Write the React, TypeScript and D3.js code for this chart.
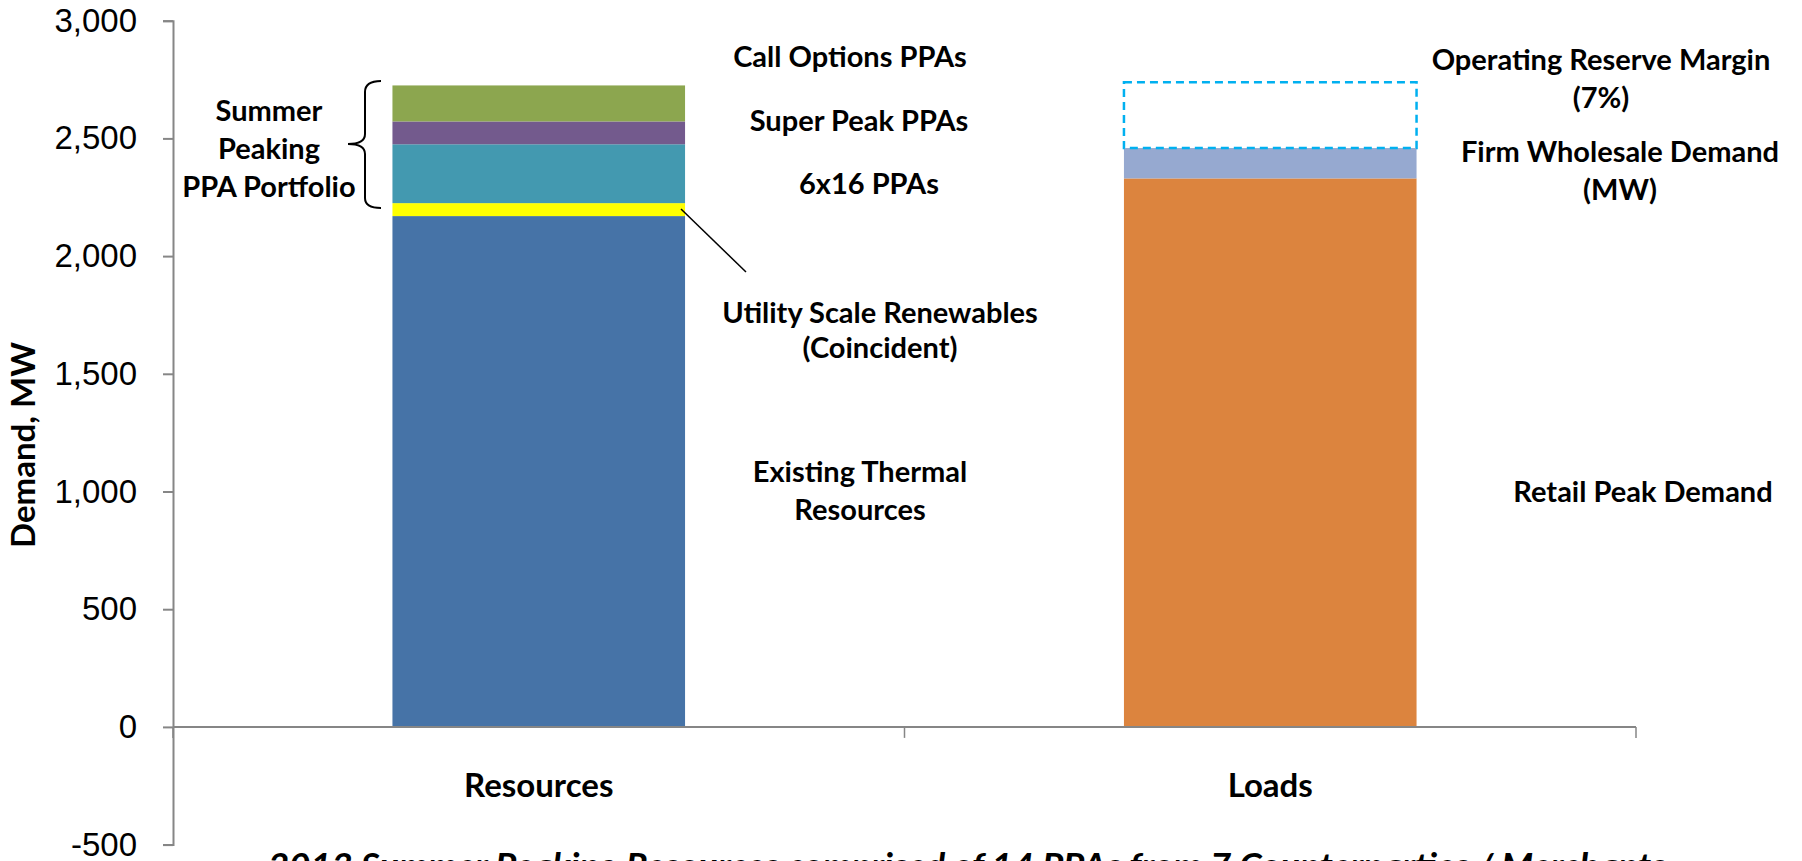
import React, { useRef, useEffect } from 'react';
import * as d3 from 'd3';

const categories = ['Resources', 'Loads'];

const resourceKeys = ['Existing Thermal Resources', 'Utility Scale Renewables', '6x16 PPAs', 'Super Peak PPAs', 'Call Options PPAs'];
const resourceValues = [2170, 55, 250, 97, 153];
const resourceColors = ['#4673A7', '#FFFF00', '#4399B0', '#735A8D', '#8CA64F'];

const loadKeys = ['Retail Peak Demand', 'Firm Wholesale Demand', 'Operating Reserve Margin'];
const loadValues = [2330, 129, 279];
const loadColors = ['#DC843E', '#96A9D0', 'none'];

const yTicks = [-500, 0, 500, 1000, 1500, 2000, 2500, 3000];

const W = 1802;
const H = 861;
const labelFont = 'Lato, "Noto Sans", sans-serif';

// text annotations: [lines, center x, first baseline, line step]
const notes: [string[], number, number, number][] = [
    [['Call Options PPAs'], 850, 67, 0],
    [['Super Peak PPAs'], 859, 131, 0],
    [['6x16 PPAs'], 869, 194, 0],
    [['Utility Scale Renewables', '(Coincident)'], 880, 323, 35],
    [['Existing Thermal', 'Resources'], 860, 482, 38],
    [['Summer', 'Peaking', 'PPA Portfolio'], 269, 121, 38],
    [['Operating Reserve Margin', '(7%)'], 1601, 70, 38],
    [['Firm Wholesale Demand', '(MW)'], 1620, 162, 38],
    [['Retail Peak Demand'], 1643, 502, 0],
];

const App: React.FC = () => {
    const svgRef = useRef<SVGSVGElement | null>(null);

    useEffect(() => {
        const svg = d3.select(svgRef.current);
        svg.selectAll('*').remove();

        const x = d3.scaleBand<string>()
            .domain(categories)
            .range([173, 1636])
            .paddingInner(0.6)
            .paddingOuter(0.3);

        const y = d3.scaleLinear()
            .domain([-500, 3000])
            .range([844.6, 20.7]);

        // y axis
        const fmt = d3.format(',');
        const yAxis = d3.axisLeft(y)
            .tickValues(yTicks)
            .tickSize(10)
            .tickPadding(26)
            .tickFormat(d => fmt(d as number).replace('\u2212', '-'));
        const gy = svg.append('g')
            .attr('transform', `translate(${x.range()[0]},0)`)
            .call(yAxis);
        gy.select('.domain').attr('stroke', '#868686').attr('stroke-width', 2);
        gy.selectAll('.tick line').attr('stroke', '#868686').attr('stroke-width', 2);
        gy.selectAll('.tick text')
            .attr('font-family', '"Liberation Sans", Arial, sans-serif')
            .attr('font-size', 33)
            .attr('fill', '#000');

        // stacked bars
        const drawStack = (cat: string, values: number[], colors: string[]) => {
            let base = 0;
            values.forEach((v, i) => {
                const y0 = base;
                const y1 = base + v;
                base = y1;
                const rect = svg.append('rect')
                    .attr('x', x(cat)!)
                    .attr('y', y(y1))
                    .attr('width', x.bandwidth())
                    .attr('height', y(y0) - y(y1));
                if (colors[i] === 'none') {
                    rect.attr('fill', 'none')
                        .attr('stroke', '#00B0F0')
                        .attr('stroke-width', 2.5)
                        .attr('stroke-dasharray', '8,5');
                } else {
                    rect.attr('fill', colors[i]);
                }
            });
        };
        drawStack('Resources', resourceValues, resourceColors);
        drawStack('Loads', loadValues, loadColors);

        // x axis at zero
        const x0 = x.range()[0];
        const x1 = x.range()[1];
        const gx = svg.append('g').attr('transform', `translate(0,${y(0)})`);
        gx.append('line')
            .attr('x1', x0).attr('x2', x1)
            .attr('stroke', '#868686').attr('stroke-width', 2);
        const step = x.step();
        [x0, x0 + step, x1].forEach(t => {
            gx.append('line')
                .attr('x1', t).attr('x2', t)
                .attr('y1', 0).attr('y2', 11)
                .attr('stroke', '#868686').attr('stroke-width', 1.5);
        });
        categories.forEach(c => {
            svg.append('text')
                .attr('x', x(c)! + x.bandwidth() / 2)
                .attr('y', 797)
                .attr('text-anchor', 'middle')
                .attr('font-family', labelFont)
                .attr('font-weight', 700)
                .attr('font-size', 33)
                .text(c);
        });

        // y axis title
        svg.append('text')
            .attr('transform', 'translate(35,445) rotate(-90)')
            .attr('text-anchor', 'middle')
            .attr('font-family', labelFont)
            .attr('font-weight', 700)
            .attr('font-size', 33)
            .text('Demand, MW');

        // annotations
        notes.forEach(([lines, cx, by, dy]) => {
            lines.forEach((ln, i) => {
                svg.append('text')
                    .attr('x', cx)
                    .attr('y', by + i * dy)
                    .attr('text-anchor', 'middle')
                    .attr('font-family', labelFont)
                    .attr('font-weight', 700)
                    .attr('font-size', 29)
                    .text(ln);
            });
        });

        // brace for PPA portfolio
        svg.append('path')
            .attr('d', 'M381,81 Q365,81 365,92 L365,134 Q365,144 348,144 Q365,144 365,154 L365,198 Q365,208 381,208')
            .attr('fill', 'none')
            .attr('stroke', '#000')
            .attr('stroke-width', 2);

        // leader line for renewables
        svg.append('line')
            .attr('x1', 681).attr('y1', 209)
            .attr('x2', 746).attr('y2', 272)
            .attr('stroke', '#000')
            .attr('stroke-width', 1.5);

        // bottom note (cut off at the frame edge, as in the source)
        svg.append('text')
            .attr('x', 967)
            .attr('y', 878)
            .attr('text-anchor', 'middle')
            .attr('font-family', labelFont)
            .attr('font-weight', 700)
            .attr('font-style', 'italic')
            .attr('font-size', 35)
            .attr('textLength', 1398)
            .attr('lengthAdjust', 'spacingAndGlyphs')
            .text('2013 Summer Peaking Resources comprised of  14 PPAs from 7 Counterparties / Merchants');
    }, []);

    return (
        <svg ref={svgRef} width={W} height={H}
            style={{ position: 'absolute', left: 0, top: 0, background: '#fff' }} />
    );
};

export default App;
